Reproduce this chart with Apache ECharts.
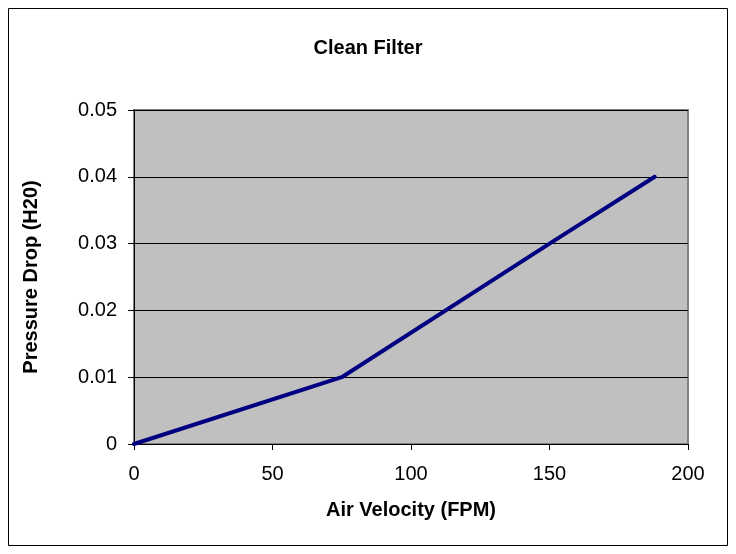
<!DOCTYPE html>
<html>
<head>
<meta charset="utf-8">
<script src="https://cdn.jsdelivr.net/npm/echarts@6/dist/echarts.min.js"></script>
<style>html,body{margin:0;padding:0;background:#fff;}#c{width:736px;height:554px;}</style>
</head>
<body>
<div id="c"></div>
<script>
var airVelocity = [0, 75, 150, 188];
var pressureDrop = [0, 0.01, 0.03, 0.04];
var xTicks = [0, 50, 100, 150, 200];
var yTicks = [0, 0.01, 0.02, 0.03, 0.04, 0.05];

var chart = echarts.init(document.getElementById('c'));
var font = 'Liberation Sans, Arial, sans-serif';
chart.setOption({
  animation: false,
  title: {
    text: 'Clean Filter', left: 'center', top: 33,
    textStyle: {fontFamily: font, fontSize: 20, fontWeight: 'bold', color: '#000'}
  },
  graphic: [{
    type: 'rect', shape: {x: 8.5, y: 8.5, width: 719, height: 537},
    style: {fill: 'none', stroke: '#000', lineWidth: 1}, silent: true, z: -1
  }],
  grid: {
    left: 134, top: 110, right: 48, bottom: 110, show: true,
    backgroundColor: '#C0C0C0', borderColor: '#808080', borderWidth: 2
  },
  xAxis: {
    type: 'value', min: 0, max: 200, interval: 50,
    name: 'Air Velocity (FPM)', nameLocation: 'middle', nameGap: 56,
    nameTextStyle: {fontFamily: font, fontSize: 20, fontWeight: 'bold', color: '#000'},
    axisLine: {show: true, lineStyle: {color: '#000', width: 1}},
    axisTick: {show: true, length: 6, lineStyle: {color: '#000'}},
    axisLabel: {fontFamily: font, fontSize: 20, color: '#000', margin: 20,
      formatter: function (v) { return xTicks.indexOf(v) >= 0 ? String(v) : ''; }},
    splitLine: {show: false}
  },
  yAxis: {
    type: 'value', min: 0, max: 0.05, interval: 0.01,
    name: 'Pressure Drop (H20)', nameLocation: 'middle', nameGap: 93, nameRotate: 90,
    nameTextStyle: {fontFamily: font, fontSize: 20, fontWeight: 'bold', color: '#000'},
    axisLine: {show: true, lineStyle: {color: '#000', width: 1}},
    axisTick: {show: true, length: 6, lineStyle: {color: '#000'}},
    axisLabel: {fontFamily: font, fontSize: 20, color: '#000', margin: 17,
      formatter: function (v) {
        for (var i = 0; i < yTicks.length; i++) { if (Math.abs(yTicks[i] - v) < 1e-9) return String(yTicks[i]); }
        return '';
      }},
    splitLine: {show: true, lineStyle: {color: '#000', width: 1}}
  },
  series: [{
    type: 'line',
    data: airVelocity.map(function (x, i) { return [x, pressureDrop[i]]; }),
    symbol: 'none',
    lineStyle: {color: '#000080', width: 4, cap: 'round', join: 'round'},
    itemStyle: {color: '#000080'}
  }]
});
</script>
</body>
</html>
